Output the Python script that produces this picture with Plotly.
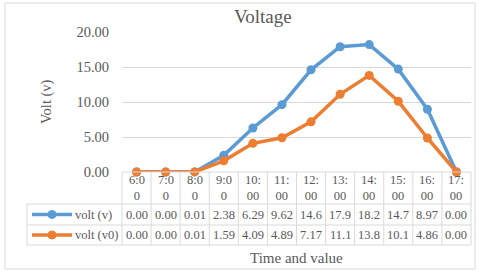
import plotly.graph_objects as go

# ---- data ----
times = ["6:00", "7:00", "8:00", "9:00", "10:00", "11:00", "12:00", "13:00", "14:00", "15:00", "16:00", "17:00"]
volt_v = [0.00, 0.00, 0.01, 2.38, 6.29, 9.62, 14.6, 17.9, 18.2, 14.7, 8.97, 0.00]
volt_v0 = [0.00, 0.00, 0.01, 1.59, 4.09, 4.89, 7.17, 11.1, 13.8, 10.1, 4.86, 0.00]
series_names = ["volt (v)", "volt (v0)"]
y_ticks = [0, 5, 10, 15, 20]

# ---- style ----
W, H = 480, 274
L, R, T, B = 122, 471, 32, 172  # plot area in px
BLUE = "#5B9BD5"
ORANGE = "#ED7D31"
GRID = "#D9D9D9"
TXT = "#595959"
FONT = "Liberation Serif"


def px2x(px):
    return (px - L) / (R - L)


def py2y(py):
    return (B - py) / (B - T)


def fmt(v):
    return f"{v:.2f}" if v < 10 else f"{v:.1f}"


fig = go.Figure()
for name, vals, col in [(series_names[0], volt_v, BLUE), (series_names[1], volt_v0, ORANGE)]:
    fig.add_trace(go.Scatter(
        x=times, y=vals, name=name, mode="lines+markers",
        line=dict(color=col, width=3.5),
        marker=dict(color=col, size=9),
        cliponaxis=False, showlegend=False,
    ))

shapes = []
line_style = dict(color=GRID, width=1)
# chart border
shapes.append(dict(type="rect", xref="paper", yref="paper",
                   x0=px2x(5), x1=px2x(475), y0=py2y(269), y1=py2y(3),
                   line=dict(color=GRID, width=1), layer="below"))
# table rows y positions (px)
row_top, row1, row2, row_bot = 172, 204, 225, 245
n = len(times)
# top line under plot
shapes.append(dict(type="line", xref="x domain", yref="paper", x0=0, x1=1,
                   y0=0, y1=0, line=line_style))
for py in [row1, row2, row_bot]:
    shapes.append(dict(type="line", xref="paper", yref="paper", x0=px2x(27), x1=1,
                       y0=py2y(py), y1=py2y(py), line=line_style))
for i in range(n + 1):
    shapes.append(dict(type="line", xref="x domain", yref="paper", x0=i / n, x1=i / n,
                       y0=0, y1=py2y(row_bot), line=line_style))
shapes.append(dict(type="line", xref="paper", yref="paper", x0=px2x(27), x1=px2x(27),
                   y0=py2y(row1), y1=py2y(row_bot), line=line_style))

annotations = []
tfont = dict(family=FONT, size=12.5, color=TXT)
centers = [(row_top + row1) / 2, (row1 + row2) / 2, (row2 + row_bot) / 2]
for t, a, b in zip(times, volt_v, volt_v0):
    annotations.append(dict(x=t, xref="x", y=py2y(centers[0]), yref="paper",
                            text=t[:3] + "<br>" + t[3:], showarrow=False, font=tfont,
                            xanchor="center", yanchor="middle"))
    annotations.append(dict(x=t, xref="x", y=py2y(centers[1]), yref="paper",
                            text=fmt(a), showarrow=False, font=tfont,
                            xanchor="center", yanchor="middle"))
    annotations.append(dict(x=t, xref="x", y=py2y(centers[2]), yref="paper",
                            text=fmt(b), showarrow=False, font=tfont,
                            xanchor="center", yanchor="middle"))

# legend keys inside table
for name, col, cy in [(series_names[0], BLUE, centers[1]), (series_names[1], ORANGE, centers[2])]:
    shapes.append(dict(type="line", xref="paper", yref="paper", x0=px2x(32), x1=px2x(72),
                       y0=py2y(cy), y1=py2y(cy), line=dict(color=col, width=3.5)))
    r = 4
    shapes.append(dict(type="circle", xref="paper", yref="paper",
                       x0=px2x(52 - r), x1=px2x(52 + r), y0=py2y(cy + r), y1=py2y(cy - r),
                       fillcolor=col, line=dict(color=col, width=1)))
    annotations.append(dict(x=px2x(73), xref="paper", y=py2y(cy), yref="paper",
                            text=name, showarrow=False, font=tfont,
                            xanchor="left", yanchor="middle"))

# titles
annotations.append(dict(x=px2x(263), xref="paper", y=py2y(17), yref="paper",
                        text="Voltage", showarrow=False,
                        font=dict(family=FONT, size=19, color=TXT),
                        xanchor="center", yanchor="middle"))
annotations.append(dict(x=px2x(46), xref="paper", y=py2y(102), yref="paper",
                        text="Volt (v)", showarrow=False, textangle=-90,
                        font=dict(family=FONT, size=14.5, color=TXT),
                        xanchor="center", yanchor="middle"))
annotations.append(dict(x=0.5, xref="paper", y=py2y(258), yref="paper",
                        text="Time and value", showarrow=False,
                        font=dict(family=FONT, size=15, color=TXT),
                        xanchor="center", yanchor="middle"))

fig.update_layout(
    width=W, height=H, autosize=False,
    margin=dict(l=L, r=W - R, t=T, b=H - B, pad=0),
    paper_bgcolor="white", plot_bgcolor="white",
    shapes=shapes, annotations=annotations,
    xaxis=dict(type="category", categoryorder="array", categoryarray=times,
               range=[-0.5, n - 0.5], showticklabels=False, showgrid=False,
               zeroline=False, showline=False, ticks=""),
    yaxis=dict(range=[0, 20], tickvals=y_ticks, tickformat=".2f",
               showgrid=True, gridcolor=GRID, gridwidth=1, zeroline=False,
               showline=False, ticks="", ticklabelstandoff=12,
               tickfont=dict(family=FONT, size=14.5, color=TXT)),
    showlegend=False,
    hovermode=False,
)

fig.write_html(
    "out.html",
    config={"displayModeBar": False, "staticPlot": True},
    post_script="document.body.style.margin='0';document.body.style.overflow='hidden';",
)
